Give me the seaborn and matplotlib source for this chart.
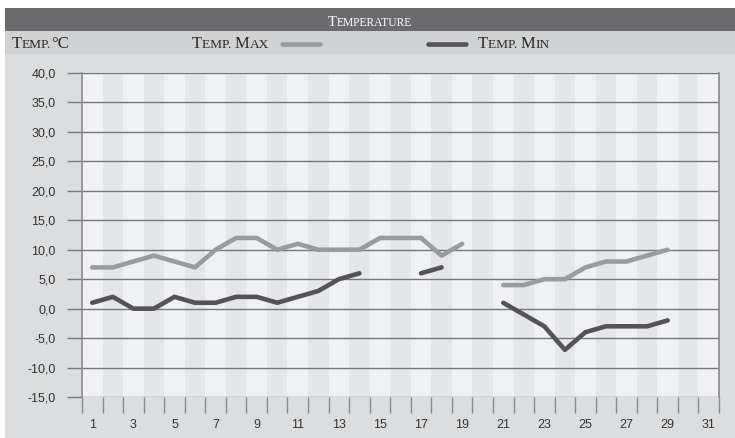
import numpy as np
import pandas as pd
import matplotlib.pyplot as plt
from matplotlib.patches import Rectangle
from matplotlib.lines import Line2D
import seaborn as sns

# data (None = no reading that day)
days = list(range(1, 32))
temp_max = [7, 7, 8, 9, 8, 7, 10, 12, 12, 10, 11, 10, 10, 10, 12, 12, 12, 9, 11, None,
            4, 4, 5, 5, 7, 8, 8, 9, 10, None, None]
temp_min = [1, 2, 0, 0, 2, 1, 1, 2, 2, 1, 2, 3, 5, 6, None, None, 6, 7, None, None,
            1, -1, -3, -7, -4, -3, -3, -3, -2, None, None]
y_ticks = [-15, -10, -5, 0, 5, 10, 15, 20, 25, 30, 35, 40]
x_tick_days = days[::2]

W, H = 735, 438
C_MAX = "#9a9b9d"
C_MIN = "#545457"


def fx(px):
    return px / W


def fy(py):
    return 1 - py / H


# long table, one unit per unbroken run so gaps stay open
rows = []
for name, vals in [("max", temp_max), ("min", temp_min)]:
    seg = 0
    for d, v in zip(days, vals):
        if v is None:
            seg += 1
            continue
        rows.append({"day": d, "temp": v, "series": name, "run": f"{name}{seg}"})
df = pd.DataFrame(rows)

sns.set_style("white")
fig = plt.figure(figsize=(W / 100, H / 100), dpi=100, facecolor="white")

# background bands
fig.add_artist(Rectangle((fx(5), 0), fx(730), fy(54), transform=fig.transFigure,
                         color="#dcdddf", zorder=-10, lw=0))
fig.add_artist(Rectangle((fx(5), fy(54)), fx(730), 23 / H, transform=fig.transFigure,
                         color="#d0d1d3", zorder=-10, lw=0))
fig.add_artist(Rectangle((fx(5), fy(31)), fx(730), 23 / H, transform=fig.transFigure,
                         color="#6b6b6f", zorder=-10, lw=0))

ax = fig.add_axes([fx(82), fy(397), fx(719 - 82), (397 - 73) / H])
ax.set_facecolor("none")

for d in days:
    ax.axvspan(d - 0.5, d + 0.5, color="#f0f1f3" if d % 2 else "#e5e6e8", lw=0, zorder=0)

sns.lineplot(data=df, x="day", y="temp", hue="series", units="run", estimator=None,
             palette={"max": C_MAX, "min": C_MIN}, lw=3.3, solid_capstyle="round",
             legend=False, ax=ax, zorder=3)

ax.set_xlim(0.5, 31.5)
ax.set_ylim(-15, 40)
ax.set_xlabel("")
ax.set_ylabel("")

ax.set_yticks(y_ticks)
ax.set_yticklabels([f"{v:.1f}".replace(".", ",") for v in y_ticks])
ax.set_xticks(x_tick_days)
ax.set_xticklabels([str(d) for d in x_tick_days])
ax.set_xticks(np.arange(0.5, 32, 1), minor=True)

ax.grid(axis="y", color="#77787a", lw=1.0, zorder=1)
ax.tick_params(axis="y", left=True, length=11, width=1.0, color="#77787a", pad=8,
               labelsize=9, labelcolor="#333333")
ax.tick_params(axis="x", which="major", bottom=True, length=0, pad=16, labelsize=9,
               labelcolor="#333333")
ax.tick_params(axis="x", which="minor", bottom=True, length=11.5, width=1.0, color="#8a8a8c")
for lab in ax.get_xticklabels() + ax.get_yticklabels():
    lab.set_family("Liberation Sans")

for side in ["top", "bottom"]:
    ax.spines[side].set_visible(False)
for side in ["left", "right"]:
    ax.spines[side].set_color("#8a8a8c")
    ax.spines[side].set_linewidth(1.2)

# small-caps text drawn as runs of two sizes
renderer = fig.canvas.get_renderer()


def small_caps(x, y, s, big, small, color, ha="left"):
    runs = []
    for ch in s:
        is_big = ch.isupper() or ch == "°"
        if runs and runs[-1][1] == is_big:
            runs[-1][0] += ch
        else:
            runs.append([ch, is_big])
    texts = []
    total = 0
    for chunk, is_big in runs:
        t = fig.text(0, fy(y), chunk if is_big else chunk.upper(),
                     fontsize=big if is_big else small, color=color,
                     family="Liberation Serif", va="baseline")
        w = t.get_window_extent(renderer).width
        texts.append((t, w))
        total += w
    start = x - total / 2 if ha == "center" else x
    for t, w in texts:
        t.set_x(fx(start))
        start += w


small_caps(370, 26.5, "Temperature", 10.5, 8.3, "white", ha="center")
small_caps(12, 47.5, "Temp.°C", 12, 9.6, "#2a2a2a")
small_caps(192, 47.5, "Temp. Max", 12, 9.6, "#2a2a2a")
small_caps(478, 47.5, "Temp. Min", 12, 9.6, "#2a2a2a")

fig.add_artist(Line2D([fx(282), fx(320)], [fy(43.5)] * 2, transform=fig.transFigure,
                      color=C_MAX, lw=3.3, solid_capstyle="round"))
fig.add_artist(Line2D([fx(428), fx(466)], [fy(43.5)] * 2, transform=fig.transFigure,
                      color=C_MIN, lw=3.3, solid_capstyle="round"))

fig.savefig("out.png", dpi=100)
